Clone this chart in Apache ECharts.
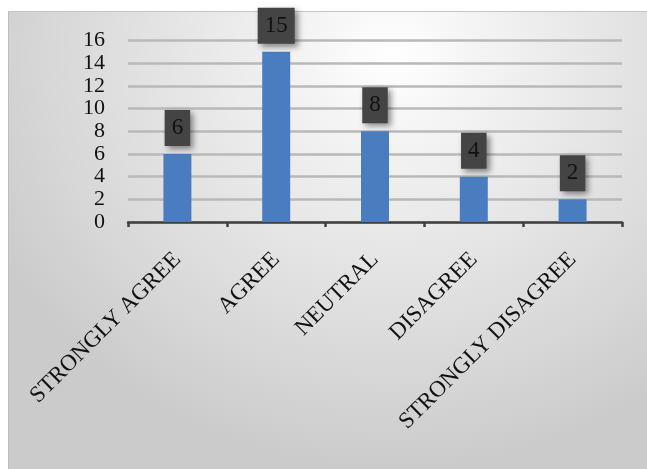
<!DOCTYPE html>
<html>
<head>
<meta charset="utf-8">
<script src="https://cdn.jsdelivr.net/npm/echarts@6/dist/echarts.min.js"></script>
<style>
  html, body { margin: 0; padding: 0; background: #fff; }
  #frame {
    position: absolute; left: 8px; top: 11px; width: 639px; height: 458px;
    border-left: 1px solid #bdbdbd; border-top: 1px solid #c4c4c4;
    background: radial-gradient(ellipse 70% 90% at 60% 10%, #ffffff 0%, #f1f1f1 25%, #d8d8d8 75%, #cbcbcb 100%);
  }
  #chart { position: absolute; left: 0; top: 0; width: 647px; height: 469px; }
</style>
</head>
<body>
<div id="frame"></div>
<div id="chart"></div>
<script>
// survey responses
const categories = ['STRONGLY AGREE', 'AGREE', 'NEUTRAL', 'DISAGREE', 'STRONGLY DISAGREE']
const counts = [6, 15, 8, 4, 2]
const yTicks = { min: 0, max: 16, step: 2 }

const serif = '"Liberation Serif", "DejaVu Serif", serif'

const chart = echarts.init(document.getElementById('chart'))
chart.setOption({
  backgroundColor: 'transparent',
  animation: false,
  grid: { left: 128, right: 25, top: 40.5, bottom: 247 },
  xAxis: {
    type: 'category',
    data: categories,
    axisLine: { lineStyle: { color: '#404040', width: 2.5 } },
    axisTick: { show: true, length: 5, lineStyle: { color: '#404040', width: 2.5 } },
    axisLabel: {
      rotate: 45,
      margin: 34,
      color: '#111',
      fontFamily: serif,
      fontSize: 23,
      interval: 0,
    },
  },
  yAxis: {
    type: 'value',
    min: yTicks.min,
    max: yTicks.max,
    interval: yTicks.step,
    axisLine: { show: false },
    axisTick: { show: false },
    axisLabel: { color: '#111', fontFamily: serif, fontSize: 22, margin: 23 },
    splitLine: { lineStyle: { color: '#b9b9b9', width: 2.5 } },
  },
  series: [{
    type: 'bar',
    data: counts,
    barWidth: 28,
    itemStyle: { color: '#4a7dbf' },
    label: {
      show: true,
      position: 'top',
      distance: 8,
      color: '#111',
      fontFamily: serif,
      fontSize: 23,
      lineHeight: 22,
      backgroundColor: '#444444',
      padding: [7, 7, 7, 7],
      shadowColor: 'rgba(0,0,0,0.45)',
      shadowBlur: 6,
      shadowOffsetX: 3,
      shadowOffsetY: 3,
    },
  }],
})
</script>
</body>
</html>
